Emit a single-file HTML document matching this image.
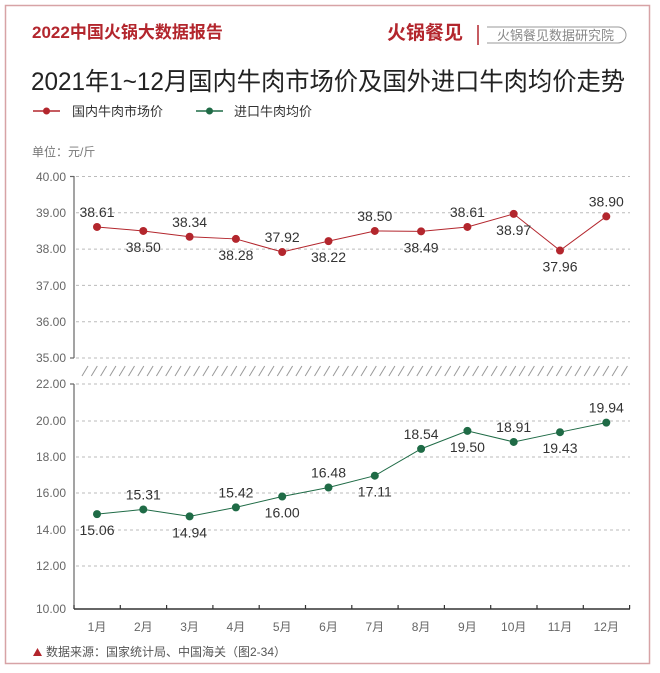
<!DOCTYPE html>
<html><head><meta charset="utf-8"><style>
body{margin:0;width:660px;height:673px;background:#fff;overflow:hidden}
svg{display:block}
text{font-family:"Liberation Sans","Noto Sans CJK SC",sans-serif}
</style></head><body>
<svg width="660" height="673" viewBox="0 0 660 673">
<rect x="5.5" y="5.5" width="644" height="658" fill="none" stroke="#d7a3a6" stroke-width="1.5"/>
<text x="32" y="38" font-size="17" font-weight="bold" fill="#b3262d">2022中国火锅大数据报告</text>
<text x="387" y="39" font-size="19" font-weight="bold" fill="#b3262d">火锅餐见</text>
<line x1="478" y1="25" x2="478" y2="45" stroke="#b3262d" stroke-width="1.5"/>
<path d="M487 27 H618 a8 8 0 0 1 0 16 H487" fill="none" stroke="#999" stroke-width="1"/>
<text x="497" y="40" font-size="13" fill="#888">火锅餐见数据研究院</text>
<text x="31" y="90" font-size="25" fill="#222" textLength="594" lengthAdjust="spacingAndGlyphs">2021年1~12月国内牛肉市场价及国外进口牛肉均价走势</text>
<line x1="33" y1="111" x2="60" y2="111" stroke="#b3262d" stroke-width="1.5"/><circle cx="46.5" cy="111" r="3.5" fill="#b3262d"/>
<text x="72" y="116" font-size="13" fill="#333">国内牛肉市场价</text>
<line x1="196" y1="111" x2="223" y2="111" stroke="#1f6b46" stroke-width="1.5"/><circle cx="209.5" cy="111" r="3.5" fill="#1f6b46"/>
<text x="234" y="116" font-size="13" fill="#333">进口牛肉均价</text>
<text x="32" y="156" font-size="12" fill="#777">单位：元/斤</text>
<g stroke="#bbb" stroke-dasharray="3,3" stroke-width="1">
<line x1="76" y1="176.5" x2="630" y2="176.5"/><line x1="76" y1="212.8" x2="630" y2="212.8"/><line x1="76" y1="249.1" x2="630" y2="249.1"/><line x1="76" y1="285.4" x2="630" y2="285.4"/><line x1="76" y1="321.7" x2="630" y2="321.7"/><line x1="76" y1="358" x2="630" y2="358"/>
<line x1="76" y1="384" x2="630" y2="384"/><line x1="76" y1="421" x2="630" y2="421"/><line x1="76" y1="457" x2="630" y2="457"/><line x1="76" y1="493" x2="630" y2="493"/><line x1="76" y1="530" x2="630" y2="530"/><line x1="76" y1="566" x2="630" y2="566"/>
</g>
<g font-size="12" fill="#666" text-anchor="end">
<text x="66" y="181">40.00</text><text x="66" y="217">39.00</text><text x="66" y="253">38.00</text><text x="66" y="290">37.00</text><text x="66" y="326">36.00</text><text x="66" y="362">35.00</text>
<text x="66" y="388">22.00</text><text x="66" y="425">20.00</text><text x="66" y="461">18.00</text><text x="66" y="497">16.00</text><text x="66" y="534">14.00</text><text x="66" y="570">12.00</text><text x="66" y="613">10.00</text>
</g>
<g stroke="#666" stroke-width="1.2">
<line x1="74" y1="176" x2="74" y2="358"/><line x1="74" y1="384" x2="74" y2="609"/>
<line x1="70" y1="176.5" x2="74" y2="176.5"/><line x1="70" y1="358" x2="74" y2="358"/><line x1="70" y1="384" x2="74" y2="384"/>
</g>
<g id="hatch" stroke="#999" stroke-width="1"></g>
<line x1="74" y1="609" x2="630" y2="609" stroke="#333" stroke-width="1.5"/>
<g id="ticks" stroke="#333" stroke-width="1.2"></g>
<g id="xl" font-size="12" fill="#666" text-anchor="middle"></g>
<g id="s"></g>
<path d="M33 656 L37.5 648 L42 656 Z" fill="#b3262d"/>
<text x="46" y="656" font-size="12" fill="#555">数据来源：国家统计局、中国海关（图2-34）</text>
</svg>
<script>
var ns="http://www.w3.org/2000/svg";
function el(p,t,a,txt){var e=document.createElementNS(ns,t);for(var k in a)e.setAttribute(k,a[k]);if(txt)e.textContent=txt;document.getElementById(p).appendChild(e);}
for(var x=82;x<625;x+=9.3)el("hatch","line",{x1:x,y1:376,x2:x+6,y2:366});
var X=[];for(var i=0;i<12;i++)X.push(97+46.3*i);
for(var i=0;i<=12;i++)el("ticks","line",{x1:74+46.3*i,y1:605,x2:74+46.3*i,y2:609});
for(var i=0;i<12;i++)el("xl","text",{x:X[i],y:631},(i+1)+"月");
var R=[38.61,38.50,38.34,38.28,37.92,38.22,38.50,38.49,38.61,38.97,37.96,38.90];
var ru=[1,0,1,0,1,0,1,0,1,0,0,1];
var G=[15.06,15.31,14.94,15.42,16.00,16.48,17.11,18.54,19.50,18.91,19.43,19.94];
var gu=[0,1,0,1,0,1,0,1,0,1,0,1];
function ser(v,fy,col,up){var d="";for(var i=0;i<12;i++)d+=(i?"L":"M")+X[i]+" "+fy(v[i]);
el("s","path",{d:d,fill:"none",stroke:col,"stroke-width":1});
for(var i=0;i<12;i++){var y=fy(v[i]);el("s","circle",{cx:X[i],cy:y,r:4,fill:col});
el("s","text",{x:X[i],y:up[i]?y-10:y+21,"font-size":14,fill:"#333","text-anchor":"middle"},v[i].toFixed(2));}}
ser(R,function(v){return 176.5+(40-v)*36.3},"#b3262d",ru);
ser(G,function(v){return 384+(22-v)*18.75},"#1f6b46",gu);
</script>
</body></html>
